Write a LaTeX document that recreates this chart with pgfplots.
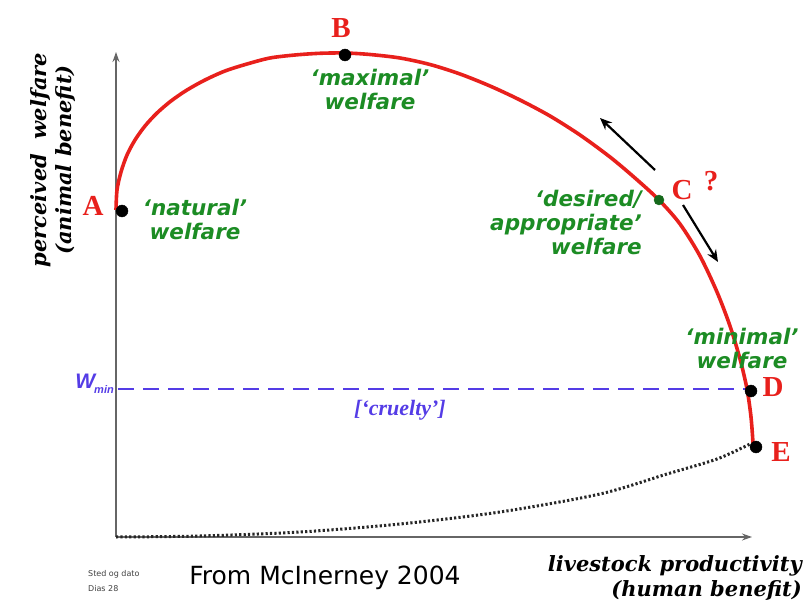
\documentclass[border=0pt]{standalone}
\usepackage{pgfplots}
\pgfplotsset{compat=1.18}
\usepackage{fontspec}
\setmainfont{Liberation Serif}
\newfontfamily\gsans{DejaVu Sans}
\newfontfamily\lsans{Liberation Sans}
\newfontfamily\dserif{DejaVu Serif}
\usetikzlibrary{arrows.meta}
\definecolor{cred}{RGB}{232,32,28}
\definecolor{cgreen}{RGB}{28,140,36}
\definecolor{cblue}{RGB}{84,60,230}
\newcommand{\gtext}{\gsans\bfseries\itshape\fontsize{21.5}{24}\selectfont\color{cgreen}}
\newcommand{\rlet}{\bfseries\fontsize{29}{29}\selectfont\color{cred}}
\begin{document}
\begin{tikzpicture}
\useasboundingbox (0,0) rectangle (812pt,604pt);
\begin{axis}[width=812pt,height=604pt,scale only axis,
  xmin=0,xmax=812,ymin=0,ymax=604,y dir=reverse,hide axis,clip=false]
% axes
\addplot[gray!80!black, line width=1.2pt, -{Stealth[length=10pt,width=7pt]}] coordinates {(116,537) (116,52)};
\addplot[gray!80!black, line width=1.2pt, -{Stealth[length=10pt,width=7pt]}] coordinates {(116,537) (752,537)};
% dashed Wmin
\addplot[cblue, line width=1.6pt, dash pattern=on 16pt off 9pt] coordinates {(118,389) (748,389)};
% dotted curve
\addplot[black!85, line width=3pt, dash pattern=on 2.2pt off 2.2pt, smooth] coordinates {
(116,537) (200,536) (300,532) (400,524) (500,512) (600,494) (667,474) (717,459) (750,444)};
% red curve
\addplot[cred, line width=3.6pt, smooth] coordinates {
(116,210) (117,190) (121,172) (127,155) (135,140) (145,126) (157,113) (171,101) (187,90) (205,80) (225,71) (247,64) (270,58) (295,55) (320,53.3) (345,53)
(370,54.5) (400,58) (430,64.5) (460,74) (490,86) (520,100) (550,116) (580,135) (610,157) (635,178) (659,200) (680,224) (700,256) (717,292) (730,326) (740,359) (747,389) (751,417) (753,443)};
% arrows near C
\addplot[black, line width=2.2pt, -{Stealth[length=12pt,width=10pt]}] coordinates {(655,170) (600,118)};
\addplot[black, line width=2.2pt, -{Stealth[length=12pt,width=10pt]}] coordinates {(683,205) (718,262)};
% points
\addplot[only marks, mark=*, mark size=6pt, black] coordinates {(122,211) (345,55) (751,391) (756,447)};
\addplot[only marks, mark=*, mark size=5pt, cgreen!75!black] coordinates {(659,200)};
% letters
\node[font=\rlet] at (axis cs:93,206) {A};
\node[font=\rlet] at (axis cs:341,28) {B};
\node[font=\rlet] at (axis cs:682,190) {C};
\node[font=\rlet] at (axis cs:711,181) {?};
\node[font=\rlet] at (axis cs:773,387) {D};
\node[font=\rlet] at (axis cs:781,452) {E};
% green texts
\node[align=center, font=\gtext, inner sep=0pt] at (axis cs:195,219) {‘natural’\\welfare};
\node[align=center, font=\gtext, inner sep=0pt] at (axis cs:370,89) {‘maximal’\\welfare};
\node[align=right, font=\gtext, inner sep=0pt, anchor=east] at (axis cs:642,222) {‘desired/\\appropriate’\\welfare};
\node[align=center, font=\gtext, inner sep=0pt] at (axis cs:742,348) {‘minimal’\\welfare};
% Wmin and cruelty
\node[anchor=east, inner sep=0pt, font=\lsans\bfseries\itshape\fontsize{21}{21}\selectfont\color{cblue}] at (axis cs:114,384) {W\kern-1pt\raisebox{-0.45ex}{\fontsize{11}{11}\selectfont min}};
\node[font=\bfseries\itshape\fontsize{22}{22}\selectfont\color{cblue}] at (axis cs:400,410) {[‘cruelty’]};
% axis labels
\node[rotate=90, align=center, inner sep=0pt, font=\dserif\bfseries\itshape\fontsize{21}{25}\selectfont] at (axis cs:53,160) {perceived~~welfare\\(animal benefit)};
\node[anchor=east, align=right, inner sep=0pt, font=\dserif\bfseries\itshape\fontsize{21}{25}\selectfont] at (axis cs:802,578) {livestock productivity\\(human benefit)};
\node[font=\gsans\fontsize{25}{25}\selectfont] at (axis cs:325,578) {From McInerney 2004};
\node[anchor=west, align=left, inner sep=0pt, font=\gsans\fontsize{8}{15}\selectfont\color{black!75}] at (axis cs:88,581) {Sted og dato\\Dias 28};
\end{axis}
\end{tikzpicture}
\end{document}
